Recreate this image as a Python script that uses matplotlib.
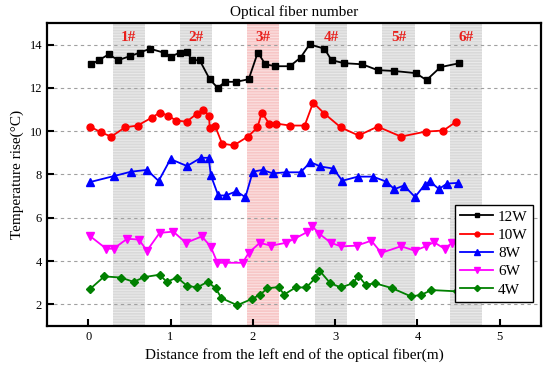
import numpy as np
import matplotlib.pyplot as plt

plt.rcParams['font.family'] = ['Liberation Serif', 'DejaVu Serif']
plt.rcParams['hatch.linewidth'] = 0.8

# 12W
x12 = [0.036, 0.13, 0.25, 0.365, 0.503, 0.629, 0.75, 0.916, 1.0, 1.11, 1.20, 1.26, 1.354,
       1.476, 1.573, 1.663, 1.80, 1.95, 2.06, 2.153, 2.275, 2.45, 2.58, 2.69, 2.87, 2.956,
       3.11, 3.33, 3.516, 3.72, 3.98, 4.11, 4.28, 4.51]
y12 = [13.09, 13.28, 13.55, 13.28, 13.46, 13.63, 13.81, 13.63, 13.43, 13.63, 13.67, 13.28, 13.28,
       12.40, 12.0, 12.28, 12.28, 12.40, 13.63, 13.09, 13.0, 13.0, 13.40, 14.01, 13.81, 13.28,
       13.14, 13.09, 12.82, 12.78, 12.68, 12.36, 12.96, 13.14]

# 10W
x10 = [0.024, 0.158, 0.28, 0.45, 0.60, 0.775, 0.87, 0.97, 1.067, 1.196, 1.322, 1.40, 1.468,
       1.476, 1.54, 1.626, 1.768, 1.94, 2.056, 2.11, 2.198, 2.287, 2.45, 2.63, 2.733, 2.87,
       3.07, 3.285, 3.516, 3.80, 4.10, 4.315, 4.473]
y10 = [10.21, 9.94, 9.75, 10.18, 10.26, 10.63, 10.86, 10.72, 10.49, 10.44, 10.81, 10.99, 10.72,
       10.14, 10.26, 9.43, 9.34, 9.75, 10.17, 10.86, 10.35, 10.35, 10.26, 10.26, 11.32, 10.81,
       10.17, 9.80, 10.21, 9.75, 9.98, 10.03, 10.44]

# 8W
x8 = [0.024, 0.316, 0.523, 0.714, 0.856, 1.0, 1.20, 1.37, 1.464, 1.49, 1.58, 1.67, 1.80, 1.91,
      2.0, 2.12, 2.24, 2.40, 2.58, 2.70, 2.82, 2.98, 3.086, 3.277, 3.46, 3.62, 3.72, 3.836,
      3.97, 4.09, 4.15, 4.26, 4.36, 4.49]
y8 = [7.65, 7.93, 8.13, 8.21, 7.70, 8.71, 8.39, 8.77, 8.77, 7.96, 7.03, 7.03, 7.22, 6.95,
      8.13, 8.21, 8.05, 8.10, 8.10, 8.57, 8.37, 8.27, 7.71, 7.90, 7.90, 7.67, 7.32, 7.49,
      6.96, 7.53, 7.68, 7.33, 7.58, 7.61]

# 6W
x6 = [0.027, 0.219, 0.308, 0.474, 0.616, 0.714, 0.868, 1.034, 1.188, 1.38, 1.488, 1.57, 1.667,
      1.877, 1.95, 2.084, 2.222, 2.40, 2.506, 2.66, 2.725, 2.81, 2.95, 3.07, 3.26, 3.44,
      3.56, 3.80, 3.97, 4.10, 4.20, 4.33, 4.42, 4.50]
y6 = [5.14, 4.57, 4.57, 5.03, 4.99, 4.48, 5.30, 5.36, 4.84, 5.14, 4.67, 3.92, 3.92,
      3.92, 4.38, 4.84, 4.71, 4.84, 5.03, 5.34, 5.60, 5.25, 4.84, 4.68, 4.71, 4.94,
      4.38, 4.68, 4.48, 4.68, 4.87, 4.57, 4.84, 4.87]

# 4W
x4 = [0.024, 0.195, 0.394, 0.552, 0.682, 0.868, 0.954, 1.08, 1.20, 1.322, 1.452, 1.55, 1.618,
      1.81, 1.99, 2.09, 2.177, 2.315, 2.38, 2.52, 2.65, 2.755, 2.81, 2.94, 3.07, 3.22, 3.28,
      3.37, 3.49, 3.69, 3.92, 4.04, 4.17, 4.485]
y4 = [2.71, 3.29, 3.24, 3.04, 3.26, 3.37, 3.04, 3.24, 2.86, 2.78, 3.04, 2.74, 2.29,
      1.96, 2.25, 2.45, 2.74, 2.80, 2.45, 2.78, 2.78, 3.20, 3.56, 2.98, 2.78, 2.98, 3.33,
      2.91, 2.97, 2.75, 2.37, 2.43, 2.66, 2.60]

band_start = [0.30, 1.12, 1.934, 2.755, 3.57, 4.395]
band_end = [0.685, 1.505, 2.32, 3.15, 3.97, 4.78]
band_labels = ['1#', '2#', '3#', '4#', '5#', '6#']

fig = plt.figure(figsize=(5.5, 3.76), dpi=100)
ax = fig.add_axes([0.0855, 0.133, 0.898, 0.806])

for i, (a, b) in enumerate(zip(band_start, band_end)):
    fc = '#f7c6c6' if i == 2 else '#d9d9d9'
    ec = '#fbe0e0' if i == 2 else '#e9e9e9'
    ax.axvspan(a, b, facecolor=fc, edgecolor=ec, hatch='------', lw=0, zorder=0)
    ax.text((a + b) / 2, 14.32, band_labels[i], color='#e8201c', fontsize=11,
            fontweight='bold', ha='center', va='center')

for yv in range(2, 15, 2):
    ax.axhline(yv, color='#a0a0a0', ls=(0, (3, 3)), lw=0.8, zorder=1)

ms = 5
ax.plot(x12, y12, '-s', color='black', ms=ms, lw=1.3, label='12W', zorder=3)
ax.plot(x10, y10, '-o', color='red', ms=ms, lw=1.3, label='10W', zorder=3)
ax.plot(x8, y8, '-^', color='blue', ms=ms + 1, lw=1.3, label='8W', zorder=3)
ax.plot(x6, y6, '-v', color='magenta', ms=ms + 1, lw=1.3, label='6W', zorder=3)
ax.plot(x4, y4, '-D', color='green', ms=ms - 0.5, lw=1.3, label='4W', zorder=3)

ax.set_xlim(-0.5, 5.5)
ax.set_ylim(1, 15)
ax.set_xticks(range(0, 6))
ax.set_yticks(range(2, 15, 2))
ax.tick_params(direction='in', width=1.5, length=5, labelsize=9)
for s in ax.spines.values():
    s.set_linewidth(1.6)

ax.set_xlabel('Distance from the left end of the optical fiber(m)', fontsize=11)
ax.set_ylabel('Temperature rise(\u00b0C)', fontsize=11)
ax.set_title('Optical fiber number', fontsize=11, pad=5)

leg = ax.legend(loc='lower right', bbox_to_anchor=(0.984, 0.079), borderaxespad=0,
                fancybox=False, edgecolor='black', framealpha=1, fontsize=11,
                handlelength=2.2, handletextpad=0.3, numpoints=1, markerscale=0.7,
                borderpad=0.35, labelspacing=0.3)
leg.get_frame().set_linewidth(1.0)

fig.savefig('out.png', dpi=100)
